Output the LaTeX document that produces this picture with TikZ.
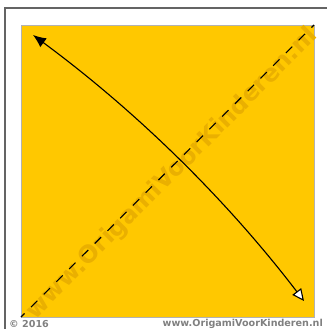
\documentclass[tikz,border=0pt]{standalone}
\usepackage{fontspec}
\setmainfont{DejaVu Sans}
\usetikzlibrary{arrows.meta}
\definecolor{paperyellow}{RGB}{255,200,0}
\definecolor{markgray}{RGB}{128,128,128}
\definecolor{framegray}{RGB}{100,100,100}
\definecolor{wmorange}{RGB}{234,176,0}
\tikzset{
    mypaper/.style = {
        fill=paperyellow,
        draw=gray!60,
        line width=0.6pt
    },
    myfold/.style = {
        line width=1.1pt,
        dash pattern=on 9pt off 9pt,
        dash phase=4pt
    },
    myarrow/.style = {
        line width=1.1pt,
        {Latex[length=13pt,width=11pt]}-{Triangle[length=12pt,width=11pt,fill=white,line width=1.1pt]}
    },
    mymark/.style = {
        text=markgray,
        font=\bfseries\fontsize{9.6}{10}\selectfont,
        inner sep=0pt
    }
}

\begin{document}
\begin{tikzpicture}[x=1pt,y=-1pt]
\useasboundingbox (0,0) rectangle (327,329);

% kader
\draw [framegray, line width=2pt] (5,329) -- (5,8) -- (327,8);

% papier
\draw [mypaper] (21,25) rectangle (314,317);
\coordinate (linksonder) at (21,317);
\coordinate (rechtsboven) at (314,25);
\coordinate (start) at (33,35);
\coordinate (eind) at (304,301);

% watermerk
\node (watermerk) [text=wmorange, rotate=45, font=\bfseries\fontsize{24}{24}\selectfont] at (172,174) {www.OrigamiVoorKinderen.nl};

% dalvouw en pijl
\draw [myfold] (linksonder) -- (rechtsboven);
\draw [myarrow] (start) .. controls (136,111) and (226,199) .. (eind);

% onderschrift
\node (jaar) [mymark, anchor=west] at (9,324) {© 2016};
\node (site) [mymark, anchor=east] at (323,324) {www.OrigamiVoorKinderen.nl};

\end{tikzpicture}
\end{document}
